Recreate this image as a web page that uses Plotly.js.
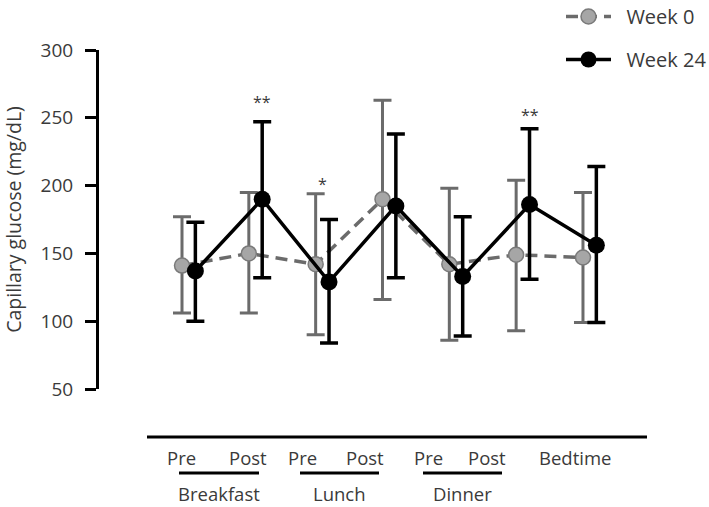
<!DOCTYPE html>
<html>
<head>
<meta charset="utf-8">
<script src="https://cdn.plot.ly/plotly-3.0.1.min.js"></script>
<style>
  body { margin: 0; background: #fff; }
  #chart { width: 709px; height: 507px; }
</style>
</head>
<body>
<div id="chart"></div>
<script>
// capillary glucose, 7-point profile, mean with error bars

var points = ['Breakfast Pre', 'Breakfast Post', 'Lunch Pre', 'Lunch Post', 'Dinner Pre', 'Dinner Post', 'Bedtime'];
var tickLabels = ['Pre', 'Post', 'Pre', 'Post', 'Pre', 'Post', 'Bedtime'];
var mealLabels = ['Breakfast', 'Lunch', 'Dinner'];

var week0 = [141, 150, 142, 190, 142, 149, 147];
var week0Upper = [177, 195, 194, 263, 198, 204, 195];
var week0Lower = [106, 106, 90, 116, 86, 93, 99];

var week24 = [137, 190, 129, 185, 133, 186, 156];
var week24Upper = [173, 247, 175, 238, 177, 242, 214];
var week24Lower = [100, 132, 84, 132, 89, 131, 99];

var sigText = ['**', '*', '**'];
var sigIndex = [1, 2, 5];
var sigY = [262, 201, 252];

// layout helpers
var W = 709, H = 507;
var mL = 99, mR = 50, mT = 50, mB = 70;
var plotW = W - mL - mR, plotH = H - mT - mB;
function px(x) { return (x - mL) / plotW; }

var idx = points.map(function (p, i) { return i; });
var offset = 0.2;
var idx24 = idx.map(function (i) { return i + offset; });

function plus(mean, up) { return up.map(function (u, i) { return u - mean[i]; }); }
function minus(mean, lo) { return lo.map(function (l, i) { return mean[i] - l; }); }

var sp = '\u00a0\u00a0';

var trace0 = {
    x: idx,
    y: week0,
    text: points,
    type: 'scatter',
    mode: 'lines+markers',
    name: sp + 'Week 0',
    legendgroup: 'a',
    line: { color: '#6b6b6b', width: 3.5, dash: '12px,7px' },
    marker: { size: 15, color: '#a6a6a6', line: { color: '#7a7a7a', width: 1.5 } },
    error_y: {
        type: 'data', symmetric: false,
        array: plus(week0, week0Upper),
        arrayminus: minus(week0, week0Lower),
        color: '#6b6b6b', thickness: 3, width: 9
    },
    cliponaxis: false
};

var trace24 = {
    x: idx24,
    y: week24,
    text: points,
    type: 'scatter',
    mode: 'lines+markers',
    name: sp + 'Week 24',
    legendgroup: 'b',
    line: { color: '#000', width: 3.5 },
    marker: { size: 17, color: '#000' },
    error_y: {
        type: 'data', symmetric: false,
        array: plus(week24, week24Upper),
        arrayminus: minus(week24, week24Lower),
        color: '#000', thickness: 3.5, width: 9
    },
    cliponaxis: false
};

var txt = '#3a3a3a';
var annotations = [];

// x labels (Pre / Post / Bedtime)
var labelPx = [181, 248, 302, 365, 428, 487, 575];
tickLabels.forEach(function (t, i) {
    annotations.push({
        text: t, xref: 'paper', yref: 'paper', x: px(labelPx[i]), y: 0,
        xanchor: 'center', yanchor: 'middle', yshift: -20, showarrow: false,
        font: { size: 18.5, color: txt }
    });
});

// meal group labels and underlines
var mealSpan = [[179, 259], [300, 379], [423, 502]];
var shapes = [];
mealLabels.forEach(function (m, i) {
    var s = mealSpan[i];
    annotations.push({
        text: m, xref: 'paper', yref: 'paper', x: px((s[0] + s[1]) / 2), y: 0,
        xanchor: 'center', yanchor: 'middle', yshift: -56, showarrow: false,
        font: { size: 18.5, color: txt }
    });
    shapes.push({
        type: 'line', xref: 'paper', yref: 'paper', ysizemode: 'pixel', yanchor: 0,
        x0: px(s[0]), x1: px(s[1]), y0: -36, y1: -36,
        line: { color: '#000', width: 3 }
    });
});

// significance stars
sigText.forEach(function (t, i) {
    var k = sigIndex[i];
    annotations.push({
        text: t, x: t === '*' ? k + offset / 2 : k + offset, y: sigY[i],
        xanchor: 'center', yanchor: 'middle', showarrow: false,
        font: { size: 16, color: txt }
    });
});

// long baseline under the plot
shapes.push({
    type: 'line', xref: 'paper', yref: 'paper',
    x0: px(147), x1: px(647), y0: 0, y1: 0,
    line: { color: '#000', width: 3 }
});

// y axis covers 50..300, from y=389px up to y=50px
var yDomainBottom = (H - mB - 389) / plotH;

var layout = {
    width: W, height: H,
    margin: { l: mL, r: mR, t: mT, b: mB, autoexpand: false },
    paper_bgcolor: '#fff',
    plot_bgcolor: '#fff',
    font: { family: 'Open Sans, sans-serif', color: txt },
    showlegend: true,
    legend: {
        x: px(561), y: 1 + (mT + 3) / plotH, xanchor: 'left', yanchor: 'top',
        itemwidth: 45,
        traceorder: 'grouped', tracegroupgap: 14,
        font: { size: 20, color: txt },
        bgcolor: 'rgba(0,0,0,0)'
    },
    xaxis: {
        range: [-(182 - mL) / 66.83, -(182 - mL) / 66.83 + plotW / 66.83],
        showgrid: false, zeroline: false, showline: false,
        showticklabels: false, ticks: ''
    },
    yaxis: {
        domain: [yDomainBottom, 1],
        range: [50, 300],
        tickvals: [50, 100, 150, 200, 250, 300],
        ticks: 'outside', ticklen: 11, tickwidth: 3, tickcolor: '#000',
        ticklabelstandoff: 8,
        showline: true, linewidth: 3, linecolor: '#000',
        showgrid: false, zeroline: false,
        tickfont: { size: 19, color: txt },
        title: { text: 'Capillary glucose (mg/dL)', font: { size: 19.5, color: txt }, standoff: 14 }
    },
    annotations: annotations,
    shapes: shapes
};

Plotly.newPlot('chart', [trace0, trace24], layout, { displayModeBar: false, staticPlot: true });
</script>
</body>
</html>
